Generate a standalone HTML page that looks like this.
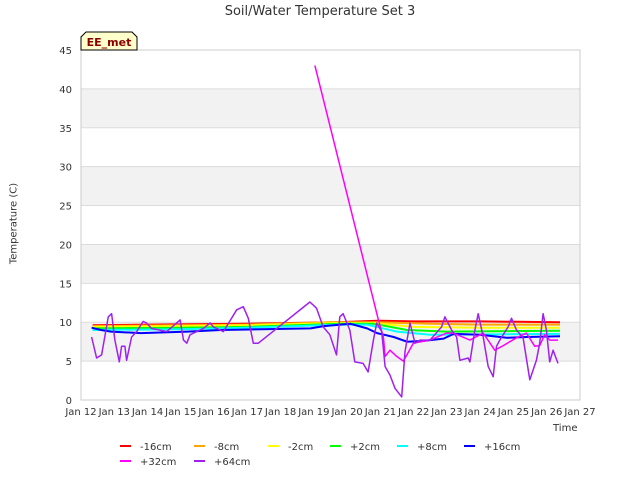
<!DOCTYPE html>
<html><head><meta charset="utf-8"><style>
body{margin:0;background:#fff;font-family:"Liberation Sans","DejaVu Sans",sans-serif}
svg text{font-family:"DejaVu Sans","Liberation Sans",sans-serif}
</style></head><body>
<svg id="c" width="640" height="480" viewBox="0 0 640 480"></svg>
<script>
const xTickLabels=["Jan 12","Jan 13","Jan 14","Jan 15","Jan 16","Jan 17","Jan 18","Jan 19","Jan 20","Jan 21","Jan 22","Jan 23","Jan 24","Jan 25","Jan 26","Jan 27"];
const yTicks=[0,5,10,15,20,25,30,35,40,45];
const seriesNames=["-16cm","-8cm","-2cm","+2cm","+8cm","+16cm","+32cm","+64cm"];
const seriesColors=["#ff0000","#ffa500","#ffff00","#00ff00","#00ffff","#0000ff","#ff00ff","#a020f0"];
const redD=[0.35,2,5,7.7,8.9,10,12,14.4];
const redV=[9.6,9.7,9.8,10.0,10.2,10.1,10.1,10.0];
const orangeD=[0.35,3,5,7.5,8.8,10.5,12,14.4];
const orangeV=[9.5,9.6,9.7,10.0,10.0,9.8,9.7,9.7];
const yellowD=[0.35,3,5,7.7,8.8,10,12,14.4];
const yellowV=[9.4,9.5,9.6,9.9,9.9,9.4,9.3,9.3];
const greenD=[0.35,3,5,7.8,8.8,9.8,11,14.4];
const greenV=[9.2,9.3,9.4,9.8,9.8,9.0,8.8,8.9];
const cyanD=[0.35,3,5,7.8,8.6,9.5,10.5,14.4];
const cyanV=[9.0,9.1,9.3,9.7,9.7,8.8,8.4,8.5];
const blueD=[0.32,0.6,0.9,1.8,3.2,4.2,6.9,7.3,8.1,8.6,8.9,9.4,9.8,10.3,10.9,11.2,12.0,12.8,13.4,14.4];
const blueV=[9.3,9.0,8.8,8.6,8.8,9.0,9.2,9.5,9.8,9.2,8.6,8.1,7.5,7.6,7.9,8.5,8.4,8.0,8.1,8.2];
const magD=[7.03,8.94,9.09,9.14,9.29,9.49,9.69,9.99,10.49,10.99,11.19,11.69,12.09,12.44,12.69,13.09,13.39,13.64,13.79,13.94,14.09,14.34];
const magV=[43,10.3,8.1,5.6,6.4,5.6,5.0,7.3,7.7,8.6,8.6,7.7,8.6,6.4,7.0,8.0,8.6,6.9,7.0,8.4,7.7,7.7];
const purD=[0.32,0.47,0.62,0.82,0.92,1.02,1.15,1.22,1.32,1.37,1.52,1.67,1.87,1.97,2.12,2.58,2.98,3.08,3.18,3.28,3.68,3.88,3.98,4.28,4.68,4.88,5.03,5.18,5.33,6.88,7.08,7.28,7.48,7.68,7.78,7.88,8.08,8.23,8.48,8.63,8.79,8.89,9.04,9.14,9.29,9.44,9.64,9.74,9.89,10.04,10.19,10.49,10.84,10.94,11.14,11.29,11.39,11.64,11.69,11.84,11.94,12.09,12.24,12.39,12.49,12.59,12.84,12.94,13.09,13.29,13.49,13.69,13.79,13.89,13.99,14.09,14.19,14.34];
const purV=[8.1,5.4,5.8,10.7,11.1,7.7,4.9,6.9,6.9,5.1,8.1,8.8,10.1,9.9,9.2,8.8,10.3,7.7,7.3,8.4,9.2,9.9,9.4,8.8,11.6,12.0,10.5,7.3,7.3,12.6,11.8,9.4,8.4,5.8,10.7,11.1,9.0,4.9,4.7,3.6,7.7,9.9,8.8,4.3,3.2,1.5,0.4,6.2,9.9,7.3,7.7,7.7,9.4,10.7,9.0,8.1,5.1,5.4,4.9,9.0,11.1,8.1,4.3,3.0,6.9,7.7,9.4,10.5,9.0,8.0,2.6,5.1,7.3,11.1,9.0,4.9,6.4,4.7];
const seriesD=[redD,orangeD,yellowD,greenD,cyanD,blueD,magD,purD];
const seriesV=[redV,orangeV,yellowV,greenV,cyanV,blueV,magV,purV];

const L=81,R=580,T=50,B=400;
const xs=d=>L+d*(R-L)/15;
const ys=v=>B-v*(B-T)/45;
const svg=document.getElementById('c');
const NS='http://www.w3.org/2000/svg';
function mk(tag,attrs,parent){const e=document.createElementNS(NS,tag);for(const k in attrs)e.setAttribute(k,attrs[k]);(parent||svg).appendChild(e);return e;}

for(let i=0;i<yTicks.length-1;i++){
  if(i%2===1){const r=mk('rect',{x:L,y:ys(yTicks[i+1]),width:R-L,height:ys(yTicks[i])-ys(yTicks[i+1]),fill:'#f2f2f2'});
  
  }
}
yTicks.forEach(v=>{
  const g=mk('line',{x1:L,x2:R,y1:ys(v),y2:ys(v),stroke:'#dcdcdc','stroke-width':1});
  
  
  const t=mk('text',{x:L-9,y:ys(v)+4,'text-anchor':'end','font-size':10,fill:'#333'});
  t.textContent=v;
  
  
});
const frame=mk('rect',{x:L,y:T,width:R-L,height:B-T,fill:'none',stroke:'#cccccc'});


xTickLabels.forEach((s,i)=>{
  const t=mk('text',{x:xs(i),y:415,'text-anchor':'middle','font-size':10,fill:'#333'});
  t.textContent=s;
  
  
});
seriesNames.forEach((n,i)=>{
  const pts=seriesD[i].map((d,j)=>xs(d).toFixed(1)+','+ys(seriesV[i][j]).toFixed(1)).join(' ');
  const p=mk('polyline',{points:pts,fill:'none',stroke:seriesColors[i],'stroke-width':i>=6?1.5:2,'stroke-linejoin':'round'});
  
  
});
const legX=[120,194,268,330,397,464,120,194],legY=[446,446,446,446,446,446,461,461];
seriesNames.forEach((n,i)=>{
  const g=mk('g',{});
  
  
  mk('line',{x1:legX[i],x2:legX[i]+11,y1:legY[i],y2:legY[i],stroke:seriesColors[i],'stroke-width':2},g);
  const t=mk('text',{x:legX[i]+20,y:legY[i]+4,'font-size':10,fill:'#333'},g);
  t.textContent=n;
});
const badge=mk('g',{});


mk('path',{d:'M81,50 L81,37 L86,32 L132,32 L137,37 L137,50 Z',fill:'#ffffcc',stroke:'#000','stroke-width':1},badge);
const bt=mk('text',{x:109,y:46,'text-anchor':'middle','font-size':11,'font-weight':'bold',fill:'#8b0000'},badge);
bt.textContent='EE_met';
</script>
<div style="position:absolute;left:0;top:0;width:640px;height:480px;pointer-events:none">
<div style="position:absolute;left:0;width:640px;top:4px;text-align:center;font:13px 'DejaVu Sans',sans-serif;color:#333">Soil/Water Temperature Set 3</div>
<div style="position:absolute;left:-36px;top:218px;width:100px;text-align:center;transform:rotate(-90deg);font:10px 'DejaVu Sans',sans-serif;color:#333">Temperature (C)</div>
<div style="position:absolute;left:553px;top:423px;font:10px 'DejaVu Sans',sans-serif;color:#333">Time</div>
</div>
</body></html>
